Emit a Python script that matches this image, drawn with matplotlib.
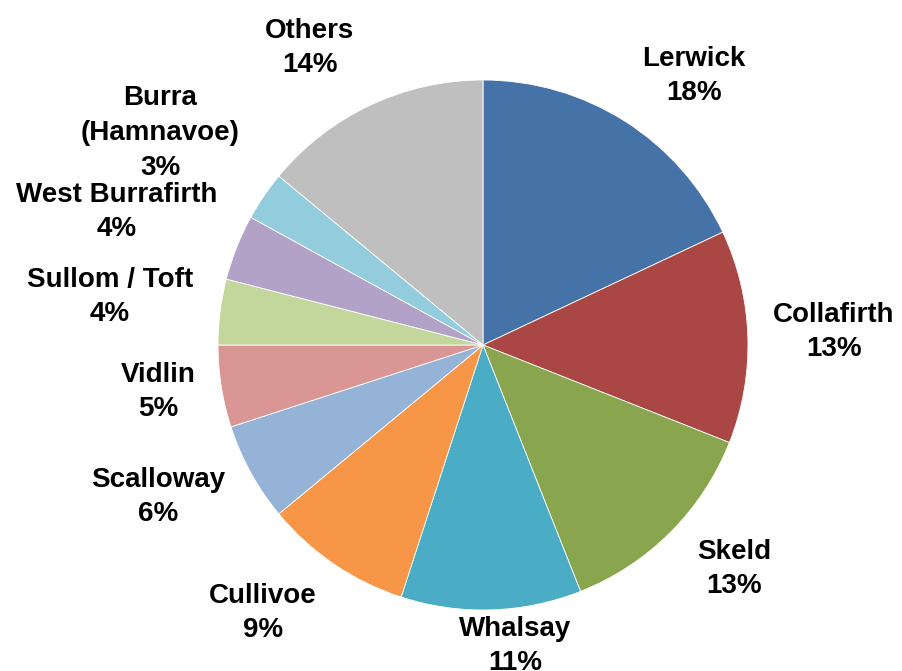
import matplotlib.pyplot as plt

# share of landings by port (percent)
ports = ['Lerwick', 'Collafirth', 'Skeld', 'Whalsay', 'Cullivoe', 'Scalloway',
         'Vidlin', 'Sullom / Toft', 'West Burrafirth', 'Burra\n(Hamnavoe)', 'Others']
share = [18, 13, 13, 11, 9, 6, 5, 4, 4, 3, 14]
colours = ['#4572A7', '#AA4643', '#89A54E', '#4BACC6', '#F79646', '#95B3D7',
           '#D99694', '#C3D69B', '#B3A2C7', '#93CDDD', '#BFBFBF']

# label centres in pixels, measured from the top-left corner
label_x = [694, 834, 734, 515, 263, 158, 158, 110, 117, 160, 310]
label_y = [76, 332, 569, 646, 613, 497, 392, 297, 212, 133, 48]

W, H = 902, 671
fig = plt.figure(figsize=(W / 100, H / 100), dpi=100)
ax = fig.add_axes([0, 0, 1, 1])

ax.pie(share, colors=colours, startangle=90, counterclock=False,
       center=(483, H - 345), radius=265, frame=True,
       wedgeprops=dict(edgecolor='white', linewidth=0.6))
ax.set_xlim(0, W)
ax.set_ylim(0, H)
ax.set_aspect('equal')
ax.axis('off')

for name, pct, x, y in zip(ports, share, label_x, label_y):
    ax.text(x, H - y, '%s\n%d%%' % (name, pct), ha='center', va='center',
            fontsize=20, fontweight='bold', family='Liberation Sans',
            linespacing=1.43)

fig.savefig('out.png', dpi=100)
